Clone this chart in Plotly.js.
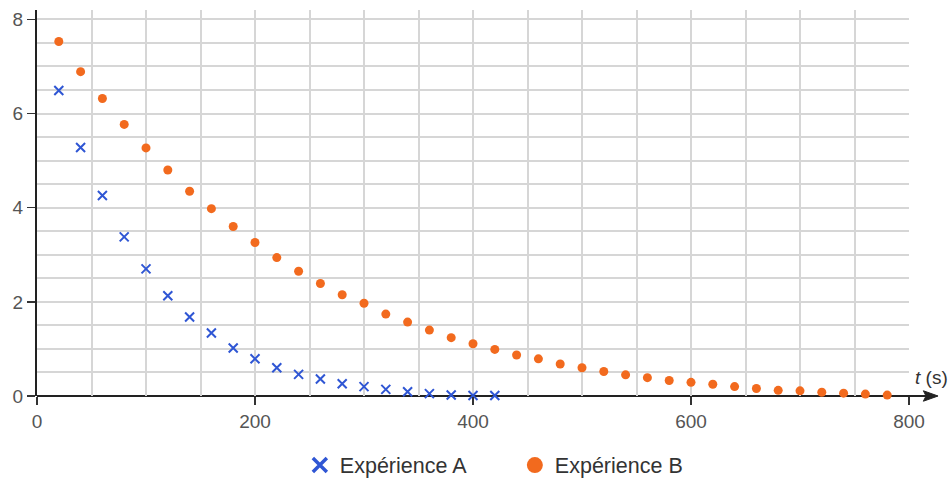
<!DOCTYPE html>
<html>
<head>
<meta charset="utf-8">
<script src="https://cdn.plot.ly/plotly-3.0.1.min.js"></script>
<style>html,body{margin:0;padding:0;background:#fff;}#chart{width:952px;height:482px;}</style>
</head>
<body>
<div id="chart"></div>
<script>
var timeA = [20,40,60,80,100,120,140,160,180,200,220,240,260,280,300,320,340,360,380,400,420];
var valuesA = [6.49,5.28,4.26,3.38,2.70,2.13,1.68,1.34,1.02,0.79,0.60,0.46,0.36,0.26,0.20,0.14,0.09,0.05,0.02,0.01,0.01];
var timeB = [20,40,60,80,100,120,140,160,180,200,220,240,260,280,300,320,340,360,380,400,420,440,460,480,500,520,540,560,580,600,620,640,660,680,700,720,740,760,780];
var valuesB = [7.53,6.89,6.32,5.77,5.27,4.80,4.35,3.98,3.60,3.26,2.94,2.65,2.39,2.15,1.97,1.74,1.57,1.40,1.24,1.11,0.99,0.87,0.79,0.68,0.60,0.52,0.45,0.39,0.33,0.29,0.25,0.20,0.16,0.12,0.11,0.08,0.06,0.04,0.02];
var nameA = 'Expérience A';
var nameB = 'Expérience B';
var xTicks = [0,200,400,600,800];
var yTicks = [0,2,4,6,8];

var blue = '#2f56d4';
var orange = '#f26a1e';
var gridColor = '#d6d6d6';

var traces = [
  {x: timeA, y: valuesA, type: 'scatter', mode: 'markers', name: nameA, showlegend: false,
   marker: {symbol: 'x-thin', size: 9, line: {width: 2, color: blue}, color: blue}, cliponaxis: false},
  {x: timeB, y: valuesB, type: 'scatter', mode: 'markers', name: nameB, showlegend: false,
   marker: {symbol: 'circle', size: 9, color: orange}, cliponaxis: false},
  {x: [null], y: [null], type: 'scatter', mode: 'markers', name: nameA,
   marker: {symbol: 'x-thin', size: 14, line: {width: 3.5, color: blue}, color: blue}},
  {x: [null], y: [null], type: 'scatter', mode: 'markers', name: nameB,
   marker: {symbol: 'circle', size: 17, color: orange}}
];

var layout = {
  width: 952, height: 482,
  margin: {l: 37, r: 43, t: 10, b: 86, autoexpand: false},
  paper_bgcolor: '#fff', plot_bgcolor: '#fff',
  font: {family: 'Liberation Sans, Arial, sans-serif', size: 19, color: '#555'},
  showlegend: true,
  legend: {orientation: 'h', x: 0.548, xanchor: 'center', y: -0.179, yanchor: 'middle',
           font: {size: 21.5, color: '#333'}, itemwidth: 30, traceorder: 'normal', entrywidth: 170},
  xaxis: {range: [0, 800], tickvals: xTicks, ticktext: xTicks.map(String),
          showgrid: true, gridcolor: gridColor, gridwidth: 2,
          minor: {dtick: 50, tick0: 0, showgrid: true, gridcolor: gridColor, gridwidth: 2, ticks: ''},
          ticks: 'outside', ticklen: 8, tickwidth: 1.5, tickcolor: '#333',
          showline: false, zeroline: false, tickfont: {size: 19, color: '#555'}},
  yaxis: {range: [0, 8.2], tickvals: yTicks, ticktext: yTicks.map(String),
          showgrid: true, gridcolor: gridColor, gridwidth: 2,
          minor: {dtick: 0.5, tick0: 0, showgrid: true, gridcolor: gridColor, gridwidth: 2, ticks: ''},
          ticks: 'outside', ticklen: 8, tickwidth: 1.5, tickcolor: '#333',
          showline: true, linecolor: '#222', linewidth: 2, zeroline: false,
          tickfont: {size: 19, color: '#555'}},
  shapes: [
    {type: 'line', xref: 'paper', yref: 'paper', x0: 0, x1: 1.022, y0: 0, y1: 0,
     line: {color: '#222', width: 2}, layer: 'between'},
    {type: 'path', xref: 'paper', yref: 'paper',
     path: 'M 1.0333 0 L 1.0165 0.0135 L 1.0195 0 L 1.0165 -0.0135 Z',
     fillcolor: '#222', line: {color: '#222', width: 1}, layer: 'above'}
  ],
  annotations: [
    {xref: 'paper', yref: 'paper', x: 1.026, y: 0.047, text: '<i>t</i> (s)', showarrow: false,
     xanchor: 'center', yanchor: 'middle', font: {size: 19, color: '#333'}}
  ]
};

Plotly.newPlot('chart', traces, layout, {displayModeBar: false, staticPlot: true});
</script>
</body>
</html>
